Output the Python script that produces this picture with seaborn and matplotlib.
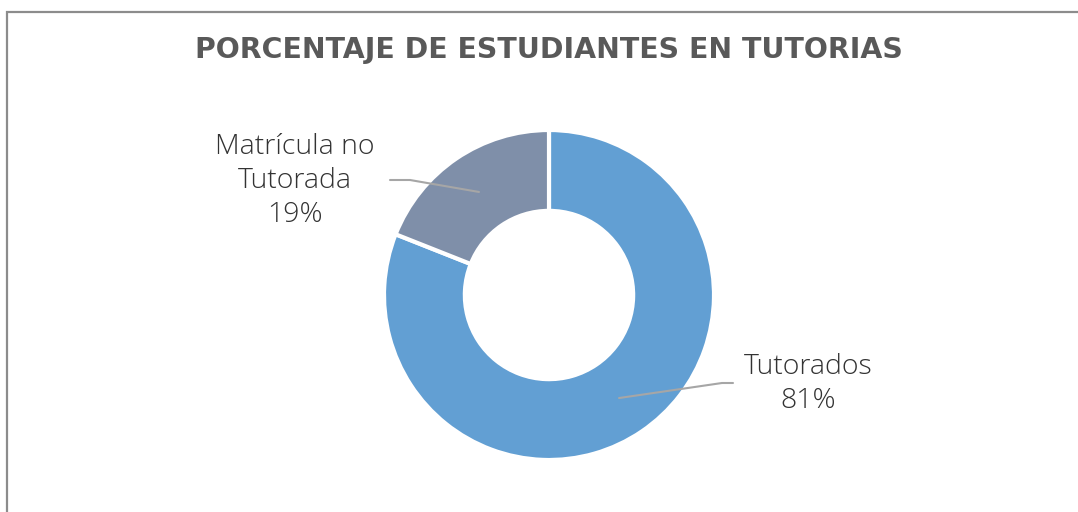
import numpy as np
import matplotlib
matplotlib.use("Agg")
import matplotlib.pyplot as plt
import seaborn as sns
from matplotlib.patches import Rectangle

# Data
categories = ["Tutorados", "Matrícula no\nTutorada"]
percentages = [81, 19]
colors = ["#629FD3", "#7F8FA9"]
title = "PORCENTAJE DE ESTUDIANTES EN TUTORIAS"

sns.set_theme(style="white")
plt.rcParams['font.family'] = ['Open Sans', 'DejaVu Sans']

W, H = 1078, 512
fig = plt.figure(figsize=(W / 100, H / 100), dpi=100)
ax = fig.add_axes([0, 0, 1, 1])

# frame of the chart area (clipped at right and bottom)
fig.patches.append(Rectangle((7 / W, -0.1), 1.2, (H - 12) / H + 0.1, transform=fig.transFigure,
                             fill=False, edgecolor="#8C8C8C", linewidth=1.6))

cx, cy, R = 549, H - 295, 165
width = 0.49
wedges, _ = ax.pie(percentages, colors=colors, startangle=90, counterclock=False,
                   center=(cx, cy), radius=R, frame=True,
                   wedgeprops=dict(width=R * width, edgecolor="white", linewidth=3))
ax.set_xlim(0, W)
ax.set_ylim(0, H)
ax.set_aspect("equal")
ax.axis("off")

ax.text(cx, H - 50, title, ha="center", va="center", fontsize=20.4, fontweight="bold",
        color="#595959", family=["DejaVu Sans"])

label_pos = [(808, H - 384), (295, H - 181)]
elbows = [((722, H - 383), (733, H - 383)), ((410, H - 180), (390, H - 180))]
r_mid = R * (1 - width / 2)
for w, name, pct, (lx, ly), (e1, e2) in zip(wedges, categories, percentages, label_pos, elbows):
    ang = np.deg2rad((w.theta1 + w.theta2) / 2)
    ax0 = cx + r_mid * np.cos(ang)
    ay0 = cy + r_mid * np.sin(ang)
    ax.plot([ax0, e1[0], e2[0]], [ay0, e1[1], e2[1]], color="#A6A6A6", linewidth=1.5)
    ax.text(lx, ly, f"{name}\n{pct}%", ha="center", va="center", fontsize=20.5,
            fontweight="light", color="#333333", linespacing=1.28)

fig.savefig("out.png", dpi=100, facecolor="white")
